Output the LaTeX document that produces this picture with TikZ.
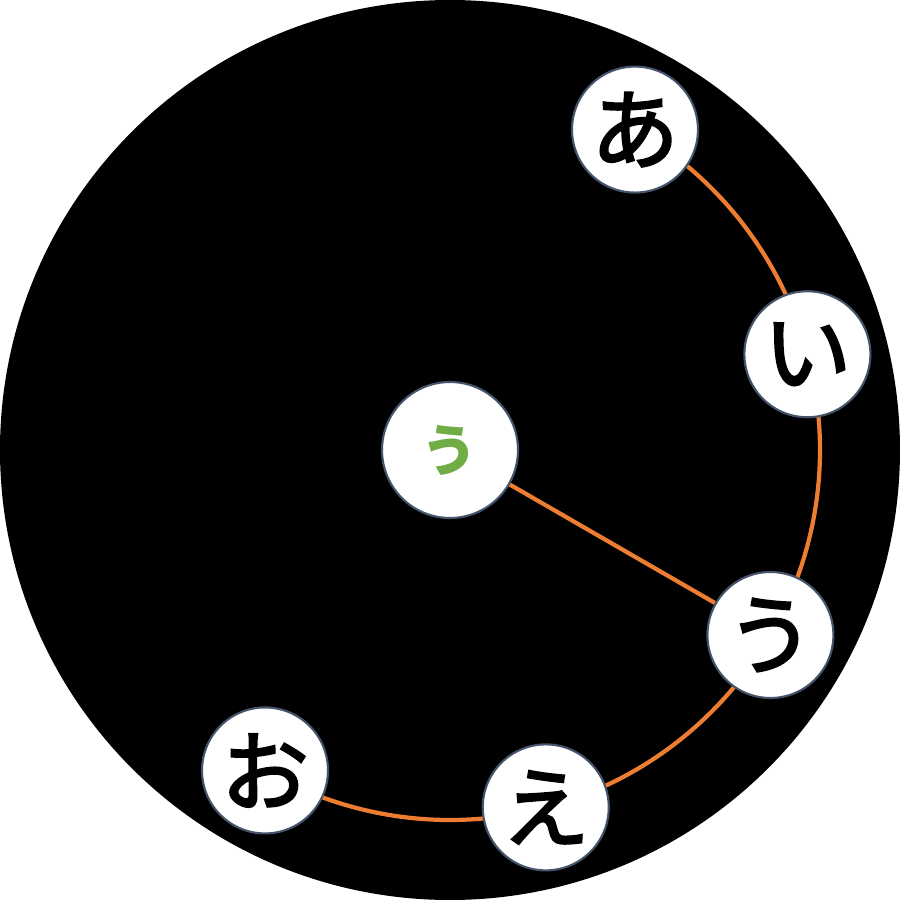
\documentclass[tikz,border=0pt]{standalone}
\usepackage{fontspec}
\usetikzlibrary{backgrounds}
\newfontfamily\jpfont[FakeBold=2.6]{Noto Sans CJK JP}
\newfontfamily\jphub{Noto Sans CJK JP}
\definecolor{kanaorange}{HTML}{ED7D31}
\definecolor{kanagreen}{HTML}{70AD47}
\definecolor{kanaedge}{HTML}{44546A}
\tikzset{
  kana/.style={circle,fill=white,draw=kanaedge,line width=0.6pt,minimum size=1.26cm,inner sep=0pt,
    font=\jpfont\fontsize{25}{25}\selectfont},
  hub/.style={kana,minimum size=1.36cm,text=kanagreen,font=\jphub\bfseries\fontsize{16}{16}\selectfont},
  track/.style={kanaorange,line width=1.2pt}
}
\begin{document}
\begin{tikzpicture}
\useasboundingbox (-4.5,-4.5) rectangle (4.5,4.5);
\node[kana] (a) at (60:3.7) {あ};
\node[kana] (i) at (15:3.7) {い};
\node[kana] (u) at (-30:3.7) {う};
\node[kana] (e) at (-75:3.7) {え};
\node[kana] (o) at (-120:3.7) {お};
\node[hub] (c) at (0,0) {う};
\begin{scope}[on background layer]
\fill[black] (c.center) circle[radius=4.5];
\draw[track] (a.center) arc[start angle=60,end angle=15,radius=3.7]; %a-i
\draw[track] (i.center) arc[start angle=15,end angle=-30,radius=3.7]; %i-u
\draw[track] (u.center) arc[start angle=-30,end angle=-75,radius=3.7]; %u-e
\draw[track] (e.center) arc[start angle=-75,end angle=-120,radius=3.7]; %e-o
\draw[track] (c) -- (u);
\end{scope}
\end{tikzpicture}
\end{document}
